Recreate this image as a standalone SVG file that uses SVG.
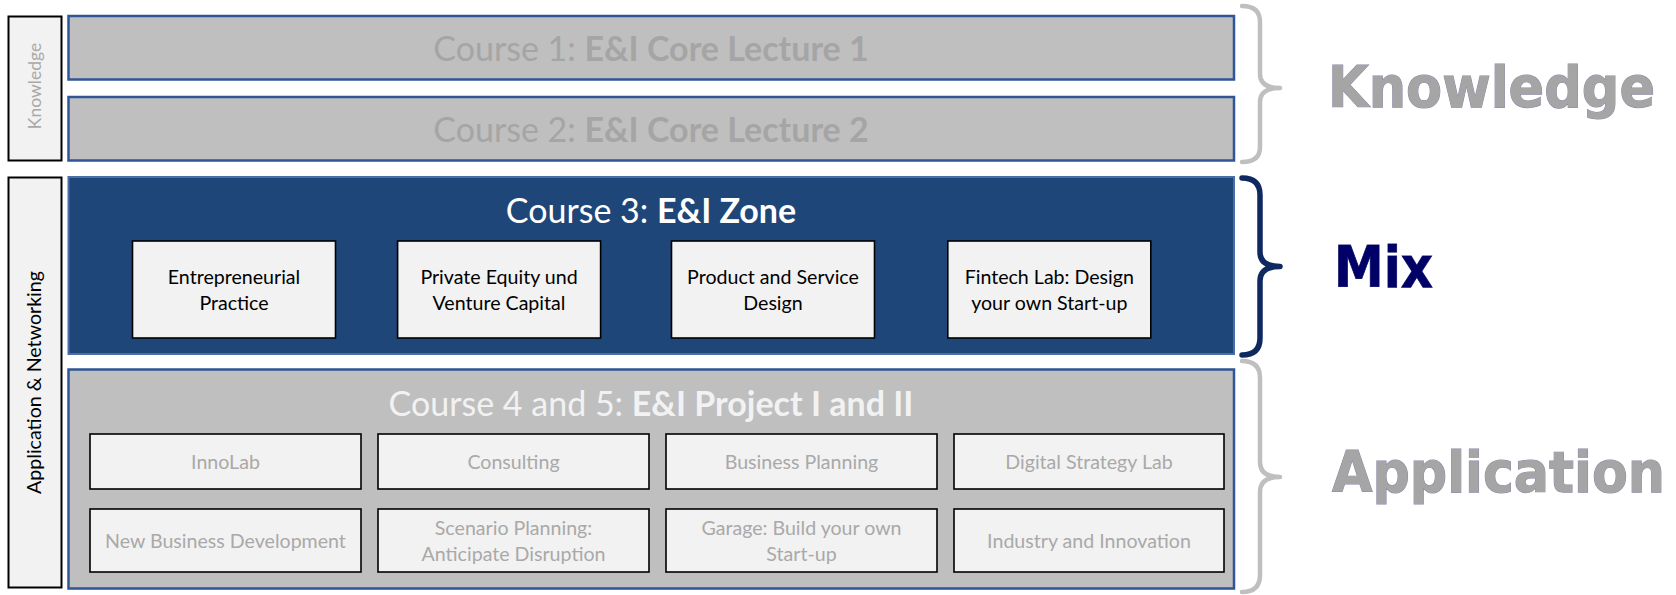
<svg xmlns="http://www.w3.org/2000/svg" width="1676" height="595" viewBox="0 0 1676 595">
<style>
.side{fill:#f2f2f2;stroke:#000;stroke-width:2}
.course{fill:#bfbfbf;stroke:#2f5597;stroke-width:2.5}
.zone{fill:#1f4679;stroke:#4a6ea8;stroke-width:2}
.box{fill:#f2f2f2;stroke:#000;stroke-width:1.6}
.t{font-family:Lato,"Open Sans","Liberation Sans",sans-serif;text-anchor:middle}
.title{font-size:34px}
.small{font-size:19.6px}
.gray{fill:#a5a5a5}
.lgray{fill:#a9a9a9}
.white{fill:#ffffff}
.offwhite{fill:#f2f2f2}
.black{fill:#000}
.big{font-family:"DejaVu Sans Condensed","DejaVu Sans",Verdana,sans-serif;font-stretch:condensed;font-weight:bold;font-size:57px;paint-order:stroke}
.brace{fill:none;stroke-linecap:round;stroke-linejoin:round}
</style>
<rect width="1676" height="595" fill="#fff"/>

<g id="side-knowledge">
<rect class="side" x="8.5" y="16.5" width="53" height="144"/>
<text class="t lgray" font-size="17.5px" transform="translate(40.5 86) rotate(-90)">Knowledge</text>
</g>
<g id="side-application">
<rect class="side" x="8.5" y="177.5" width="53" height="410"/>
<text class="t black" font-size="19.6px" transform="translate(41 382.5) rotate(-90)">Application &amp; Networking</text>
</g>

<g id="course1">
<rect class="course" x="68.5" y="16" width="1165.5" height="63.5"/>
<text class="t title gray" x="651" y="60.5">Course 1: <tspan font-weight="bold">E&amp;I Core Lecture 1</tspan></text>
</g>
<g id="course2">
<rect class="course" x="68.5" y="97" width="1165.5" height="63.5"/>
<text class="t title gray" x="651" y="141.5">Course 2: <tspan font-weight="bold">E&amp;I Core Lecture 2</tspan></text>
</g>

<g id="course3">
<rect class="zone" x="68.5" y="177" width="1165.5" height="177"/>
<text class="t title white" x="651" y="222.5">Course 3: <tspan font-weight="bold">E&amp;I Zone</tspan></text>
</g>
<g id="entrepreneurial-practice">
<rect class="box" x="132.5" y="241" width="203" height="97"/>
<text class="t small black" x="234" y="284">Entrepreneurial</text>
<text class="t small black" x="234" y="310">Practice</text>
</g>
<g id="private-equity">
<rect class="box" x="397.6" y="241" width="203" height="97"/>
<text class="t small black" x="499" y="284">Private Equity und</text>
<text class="t small black" x="499" y="310">Venture Capital</text>
</g>
<g id="product-service">
<rect class="box" x="671.5" y="241" width="203" height="97"/>
<text class="t small black" x="773" y="284">Product and Service</text>
<text class="t small black" x="773" y="310">Design</text>
</g>
<g id="fintech-lab">
<rect class="box" x="947.8" y="241" width="203" height="97"/>
<text class="t small black" x="1049.3" y="284">Fintech Lab: Design</text>
<text class="t small black" x="1049.3" y="310">your own Start-up</text>
</g>

<g id="course45">
<rect class="course" x="68.5" y="369.5" width="1165.5" height="219"/>
<text class="t title offwhite" x="651" y="415.5">Course 4 and 5: <tspan font-weight="bold">E&amp;I Project I and II</tspan></text>
</g>
<g id="innolab">
<rect class="box" x="90" y="434" width="271" height="55"/>
<text class="t small lgray" x="225.5" y="468.5">InnoLab</text>
</g>
<g id="consulting">
<rect class="box" x="378" y="434" width="271" height="55"/>
<text class="t small lgray" x="513.5" y="468.5">Consulting</text>
</g>
<g id="business-planning">
<rect class="box" x="666" y="434" width="271" height="55"/>
<text class="t small lgray" x="801.5" y="468.5">Business Planning</text>
</g>
<g id="digital-strategy-lab">
<rect class="box" x="954" y="434" width="270" height="55"/>
<text class="t small lgray" x="1089" y="468.5">Digital Strategy Lab</text>
</g>
<g id="new-business-development">
<rect class="box" x="90" y="509" width="271" height="63"/>
<text class="t small lgray" x="225.5" y="547.5">New Business Development</text>
</g>
<g id="scenario-planning">
<rect class="box" x="378" y="509" width="271" height="63"/>
<text class="t small lgray" x="513.5" y="534.5">Scenario Planning:</text>
<text class="t small lgray" x="513.5" y="561">Anticipate Disruption</text>
</g>
<g id="garage">
<rect class="box" x="666" y="509" width="271" height="63"/>
<text class="t small lgray" x="801.5" y="534.5">Garage: Build your own</text>
<text class="t small lgray" x="801.5" y="561">Start-up</text>
</g>
<g id="industry-innovation">
<rect class="box" x="954" y="509" width="270" height="63"/>
<text class="t small lgray" x="1089" y="547.5">Industry and Innovation</text>
</g>

<g id="connectors">
<path class="brace" stroke="#bfbfbf" stroke-width="4.5" d="M1242 6 Q1260 6 1260 22 L1260 74 Q1260 88 1280 88 Q1260 88 1260 102 L1260 147 Q1260 162 1242 162"/>
<path class="brace" stroke="#0f2860" stroke-width="5.5" d="M1242 178 Q1260 178 1260 195 L1260 252 Q1260 266.5 1280 266.5 Q1260 266.5 1260 281 L1260 338 Q1260 355 1242 355"/>
<path class="brace" stroke="#bfbfbf" stroke-width="4.5" d="M1242 361 Q1260 361 1260 378 L1260 462 Q1260 477 1280 477 Q1260 477 1260 492 L1260 575 Q1260 592 1242 592"/>
</g>

<g id="label-knowledge">
<text class="big" x="1328" y="107" fill="#a5a5a5" stroke="#8888a8" stroke-width="1" textLength="327" lengthAdjust="spacingAndGlyphs">Knowledge</text>
</g>
<g id="label-mix">
<text class="big" x="1334" y="287" font-size="54px" fill="#000066" stroke="#202a70" stroke-width="0.8" textLength="99" lengthAdjust="spacingAndGlyphs">Mix</text>
</g>
<g id="label-application">
<text class="big" x="1332" y="491.5" fill="#a5a5a5" stroke="#8888a8" stroke-width="1" textLength="333" lengthAdjust="spacingAndGlyphs">Application</text>
</g>
</svg>
